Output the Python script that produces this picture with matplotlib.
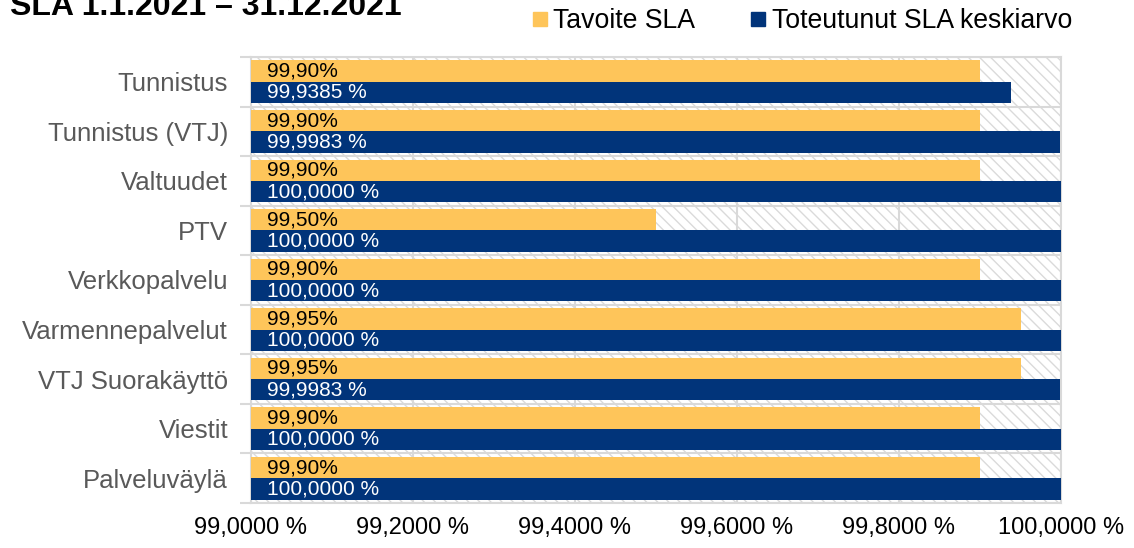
import matplotlib
matplotlib.use("Agg")
import matplotlib.pyplot as plt
from matplotlib.patches import Rectangle
from matplotlib.lines import Line2D

plt.rcParams['font.family'] = ['Liberation Sans', 'DejaVu Sans']

# Data
categories = ['Tunnistus', 'Tunnistus (VTJ)', 'Valtuudet', 'PTV', 'Verkkopalvelu',
              'Varmennepalvelut', 'VTJ Suorakäyttö', 'Viestit', 'Palveluväylä']
target_sla = [99.90, 99.90, 99.90, 99.50, 99.90, 99.95, 99.95, 99.90, 99.90]
actual_sla = [99.9385, 99.9983, 100.0, 100.0, 100.0, 100.0, 99.9983, 100.0, 100.0]
x_ticks = [99.0, 99.2, 99.4, 99.6, 99.8, 100.0]
base = 99.0

yellow = '#FEC55A'
blue = '#01347A'
grid_c = '#D9D9D9'

fig = plt.figure(figsize=(11.34, 5.48), dpi=100)
ax = fig.add_axes([251 / 1134, 1 - 503 / 548, 810 / 1134, 446 / 548])

# hatched background
ax.add_patch(Rectangle((0, 0), 1, 1, transform=ax.transAxes, facecolor='white',
                       edgecolor='#DADADA', hatch='\\\\\\', lw=0, zorder=0))

ys = list(range(len(categories)))
h = 0.43
for i, (t, a) in enumerate(zip(target_sla, actual_sla)):
    ax.barh(i - 0.215, t - base, left=base, height=h, color=yellow, zorder=3)
    ax.barh(i + 0.215, a - base, left=base, height=h, color=blue, zorder=3)
    ax.text(base + 0.02, i - 0.215, f"{t:.2f}%".replace('.', ','), va='center', ha='left',
            fontsize=15, color='black', zorder=4)
    ax.text(base + 0.02, i + 0.215, f"{a:.4f} %".replace('.', ','), va='center', ha='left',
            fontsize=15, color='white', zorder=4)

ax.set_xlim(base, 100.0)
ax.set_ylim(len(categories) - 0.5, -0.5)

ax.set_xticks(x_ticks)
ax.set_xticklabels([f"{v:.4f} %".replace('.', ',') for v in x_ticks], fontsize=17)
ax.tick_params(axis='x', length=0, pad=10, colors='black')

# boundaries as major ticks (with grid), labels on minor ticks
ax.set_yticks([i - 0.5 for i in range(len(categories) + 1)])
ax.set_yticklabels([])
ax.set_yticks(ys, minor=True)
ax.set_yticklabels(categories, minor=True, fontsize=18.5, color='#595959')
ax.tick_params(axis='y', which='major', length=8, width=1.5, color=grid_c)
ax.tick_params(axis='y', which='minor', length=0, pad=16.5)

ax.grid(True, axis='x', color=grid_c, lw=1.5, zorder=1)
ax.grid(True, axis='y', which='major', color=grid_c, lw=1.5, zorder=1)
ax.set_axisbelow(True)
for s in ax.spines.values():
    s.set_color(grid_c)
    s.set_linewidth(1.5)

fig.text(10 / 1134, 1 - 15 / 548, 'SLA 1.1.2021 – 31.12.2021', fontsize=23,
         fontweight='bold', va='baseline', ha='left')

handles = [Line2D([], [], marker='s', ls='', color=yellow, markersize=10.5),
           Line2D([], [], marker='s', ls='', color=blue, markersize=10.5)]
fig.legend(handles, ['Tavoite SLA', 'Toteutunut SLA keskiarvo'], ncol=2, frameon=False,
           loc='center right', bbox_to_anchor=(1083 / 1134, 1 - 21 / 548), fontsize=19.2,
           handletextpad=0.12, columnspacing=1.95, handlelength=0.8, borderaxespad=0)

fig.savefig('out.png', dpi=100)
